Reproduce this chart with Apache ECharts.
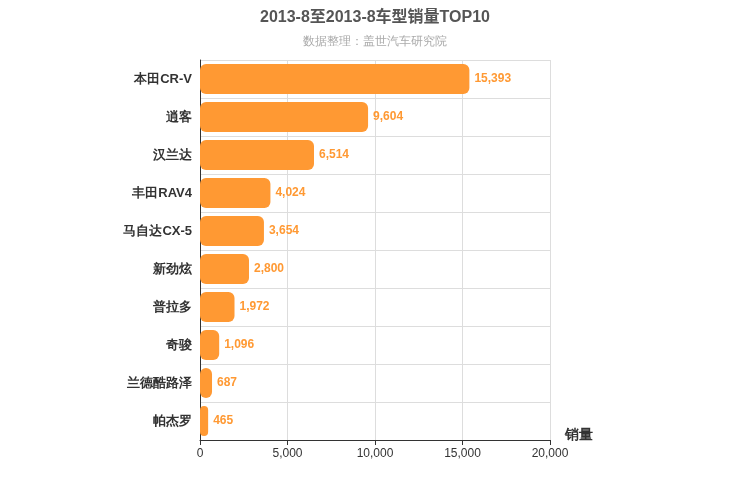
<!DOCTYPE html>
<html><head><meta charset="utf-8">
<script src="https://cdn.jsdelivr.net/npm/echarts@6/dist/echarts.min.js"></script>
<style>html,body{margin:0;padding:0;}#c{width:750px;height:500px;}</style>
</head><body><div id="c"></div>
<script>
const categories = ['本田CR-V','逍客','汉兰达','丰田RAV4','马自达CX-5','新劲炫','普拉多','奇骏','兰德酷路泽','帕杰罗'];
const sales = [15393,9604,6514,4024,3654,2800,1972,1096,687,465];
const xTicks = [0,5000,10000,15000,20000];
const chart = echarts.init(document.getElementById('c'));
chart.setOption({
  title:{text:'2013-8至2013-8车型销量TOP10',subtext:'数据整理：盖世汽车研究院',left:'center',top:5,
    textStyle:{fontSize:16,fontWeight:'bold',color:'#555',fontFamily:'Arial, Liberation Sans, Noto Sans CJK SC'},
    subtextStyle:{fontSize:12,color:'#aaa'},itemGap:10},
  grid:{left:200,right:200,top:60,bottom:60,containLabel:false},
  xAxis:{type:'value',min:xTicks[0],max:xTicks[xTicks.length-1],interval:5000,name:'销量',
    nameLocation:'end',nameGap:15,nameTextStyle:{fontSize:14,fontWeight:'bold',color:'#333',verticalAlign:'top',padding:[-12,0,0,0]},
    axisLine:{show:true,lineStyle:{color:'#333'}},axisTick:{show:true},
    axisLabel:{color:'#333',fontSize:12,formatter:v=>v.toLocaleString('en-US')},
    splitLine:{lineStyle:{color:'#ddd'}}},
  yAxis:{type:'category',data:categories,inverse:true,
    axisLine:{lineStyle:{color:'#333'}},axisTick:{show:false},
    axisLabel:{color:'#333',fontSize:13,fontWeight:'bold'},
    splitLine:{show:true,lineStyle:{color:'#ddd'}}},
  series:[{type:'bar',data:sales,barWidth:30,
    itemStyle:{color:'#ff9933',borderRadius:6},
    label:{show:true,position:'right',color:'#ff9933',fontSize:12,fontWeight:'bold',
      formatter:p=>p.value.toLocaleString('en-US')}}]
});
</script></body></html>
